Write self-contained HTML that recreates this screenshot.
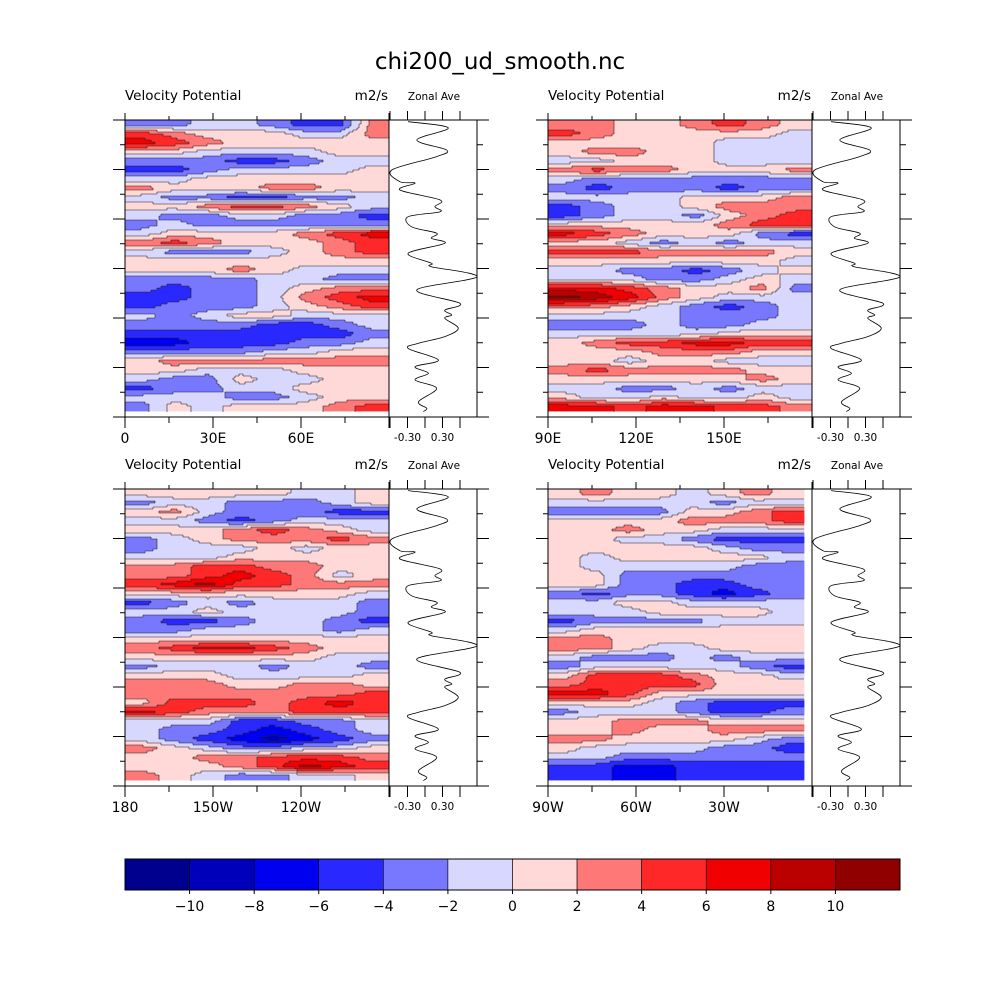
<!DOCTYPE html>
<html><head><meta charset="utf-8">
<style>
html,body{margin:0;padding:0;background:#fff;}
svg{display:block;font-family:"DejaVu Sans","Liberation Sans",sans-serif;}
</style></head>
<body>
<svg id="chart" width="1000" height="1000" viewBox="0 0 1000 1000" xmlns="http://www.w3.org/2000/svg">
<rect x="0" y="0" width="1000" height="1000" fill="#fff"/>
<text x="500" y="69" font-size="23" text-anchor="middle" fill="#000">chi200_ud_smooth.nc</text>
</svg>
<script>
// ---- data ----
const levelBounds = [-12,-10,-8,-6,-4,-2,0,2,4,6,8,10,12];
const levelColors = ["#00008f","#0000bb","#0000f0","#2828ff","#7878ff","#d8d8ff","#ffd8d8","#ff7878","#ff2828","#f00000","#bb0000","#900000"];
const cbTicks = [-10,-8,-6,-4,-2,0,2,4,6,8,10];
// level index grid per panel (rows north->south, 8 longitude columns); digits 0-9, a=10, b=11
const grid1 = ["44554337","87666557","98766666","66555566","44433455","33455556","55666666","76667766","54433445","66788765","54455443","45444444","56666789","78766678","54445678","66666666","66676555","44445544","43445677","33445789","34445678","54566555","44443345","33333334","22333445","44445566","67777777","66555666","54465566","34455666","55544566","46566678"];
const grid2 = ["77667876","87666665","66666555","67766555","55666555","78776667","54444444","43444344","55556667","34556777","34554678","66666788","98766643","66545455","88877776","66666665","55443456","55544565","99876674","ba976555","77654345","55554445","44454455","55555666","67889988","66677766","66566555","78777766","66666676","55445455","65565565","99899887"];
const grid3 = ["66666556","45544456","67544433","55434555","66678765","45677787","45556566","55566666","77887766","77898756","89a88777","66666665","34545554","55655554","43345543","44555545","66666666","78998766","66666655","45554554","66655556","77766776","77777778","68887898","98777888","55533445","54432345","54321234","76544556","66778887","66678a98","76544556"];
const grid4 = ["67665676","55555455","44446678","66667778","66766555","66554333","66666544","65666665","65555544","66444444","66443344","43443234","55665555","55566665","34444555","56666666","77666666","77655666","54445455","45555543","68887665","78888666","99866666","66654333","45554334","66777666","66766777","77666654","65555443","55444444","33223333"];
// zonal average profile
const profLat = [89.0,85.2,77.9,71.8,67.8,59.7,52.6,51.7,47.6,41.5,37.5,34.4,31.4,25.3,21.4,18.3,15.3,9.2,3.2,1.1,-5.0,-13.0,-21.1,-25.2,-28.2,-30.2,-36.2,-41.3,-45.3,-48.4,-55.5,-59.5,-63.5,-67.6,-72.6,-80.7,-84.7,-86.7];
const profVal = [-0.29,0.40,-0.14,0.37,0.20,-0.57,-0.43,-0.17,-0.43,0.26,0.17,0.26,-0.29,-0.23,0.20,0.11,0.34,-0.29,0.11,0.11,0.89,-0.14,0.60,0.34,0.46,0.34,0.57,0.34,-0.11,-0.29,0.23,-0.17,0.06,-0.17,0.20,-0.11,0.03,-0.03];
const lonLabels1 = ["0","30E","60E"];
const lonLabels2 = ["90E","120E","150E"];
const lonLabels3 = ["180","150W","120W"];
const lonLabels4 = ["90W","60W","30W"];

const NS = "http://www.w3.org/2000/svg";
const svg = document.getElementById('chart');
function mk(tag, attrs, parent){const e=document.createElementNS(NS,tag);for(const k in attrs)e.setAttribute(k,attrs[k]);(parent||svg).appendChild(e);return e;}

function drawPanel(id, ox, oy, fillW, grid, labels){
  const g = mk('g',{});
  
  
  const W=264, H=297, fillH=291;
  const rows=grid.length, cols=grid[0].length;
  const rh = fillH/32, cw = fillW/cols;
  const yScale = lat => oy + (90-lat)/180*H;
  const val = (r,c)=>{r=Math.max(0,Math.min(rows-1,r));c=Math.max(0,Math.min(cols-1,c));return parseInt(grid[r][c],16)+0.5;};
  const sample = (x,y)=>{ // x,y in cell units, centers at i+0.5
    const fx=x-0.5, fy=y-0.5; const c0=Math.floor(fx), r0=Math.floor(fy);
    const tx=fx-c0, ty=fy-r0;
    const a=val(r0,c0),b=val(r0,c0+1),c=val(r0+1,c0),d=val(r0+1,c0+1);
    return (a*(1-tx)+b*tx)*(1-ty)+(c*(1-tx)+d*tx)*ty;
  };
  const fg = mk('g',{},g);
  
  
  const step=2;
  const nx=Math.ceil(fillW/step), ny=Math.ceil(fillH/step);
  const lv=[];
  for(let j=0;j<ny;j++){
    const row=[];
    for(let i=0;i<nx;i++){
      const v=sample((i*step+step/2)/cw,(j*step+step/2)/rh);
      row.push(Math.max(0,Math.min(11,Math.floor(v))));
    }
    lv.push(row);
  }
  for(let j=0;j<ny;j++){
    let i=0;
    while(i<nx){
      let k=i; while(k+1<nx && lv[j][k+1]===lv[j][i]) k++;
      const x=ox+i*step, y=oy+j*step;
      const w=Math.min((k+1)*step, fillW)-i*step, h=Math.min(step, fillH-j*step);
      const rc=mk('rect',{x:x,y:y,width:w+0.4,height:h+0.4,fill:levelColors[lv[j][i]]},fg);
      
      
      i=k+1;
    }
  }
  // contour edges
  let dpath='';
  for(let j=0;j<ny;j++)for(let i=0;i<nx;i++){
    if(i+1<nx && lv[j][i+1]!==lv[j][i]) dpath+=`M${ox+(i+1)*step},${oy+j*step}v${step}`;
    if(j+1<ny && lv[j+1][i]!==lv[j][i]) dpath+=`M${ox+i*step},${oy+(j+1)*step}h${step}`;
  }
  const cl=mk('path',{d:dpath,stroke:'#222','stroke-width':0.6,fill:'none'},fg);
  
  
  // frame
  const fr = mk('rect',{x:ox,y:oy,width:W,height:H,fill:'none',stroke:'#000','stroke-width':1},g);
  
  
  for(let i=0;i<7;i++){
    const x = ox + i*W/6; const major = i%2===0;
    mk('line',{x1:x,x2:x,y1:oy,y2:oy-(major?7:4),stroke:'#000'},g);
    mk('line',{x1:x,x2:x,y1:oy+H,y2:oy+H+(major?11:6),stroke:'#000'},g);
  }
  labels.forEach((l,i)=>{
    const t = mk('text',{x:ox+i*W*2/6,y:oy+H+26,'font-size':14,'text-anchor':'middle'},g);
    t.textContent=l;
    
    
  });
  for(let i=0;i<=12;i++){
    const y = oy + i*H/12; const major=i%2===0;
    mk('line',{x1:ox,x2:ox-(major?12:5),y1:y,y2:y,stroke:'#000'},g);
  }
  const t1 = mk('text',{x:ox,y:oy-20,'font-size':13.5},g); t1.textContent='Velocity Potential';
   
  const t2 = mk('text',{x:ox+W-1,y:oy-20,'font-size':13.5,'text-anchor':'end'},g); t2.textContent='m2/s';
   
  const zx = ox+W, zw = 88;
  const zb = mk('rect',{x:zx,y:oy,width:zw,height:H,fill:'#fff',stroke:'#000'},g);
  
  
  const z0 = zx+36, pxPer = 17.5/0.3;
  const xs = v => z0 + v*pxPer;
  [-0.6,-0.3,0,0.3,0.6].forEach(v=>{
    const x=xs(v);
    mk('line',{x1:x,x2:x,y1:oy,y2:oy-9,stroke:'#000'},g);
    mk('line',{x1:x,x2:x,y1:oy+H,y2:oy+H+11,stroke:'#000'},g);
  });
  for(let i=0;i<=12;i++){
    const y = oy + i*H/12; const major=i%2===0;
    mk('line',{x1:zx+zw,x2:zx+zw+(major?12:6),y1:y,y2:y,stroke:'#000'},g);
  }
  [[-0.3,'-0.30'],[0.3,'0.30']].forEach(p=>{
    const t=mk('text',{x:xs(p[0]),y:oy+H+24,'font-size':10.5,'text-anchor':'middle'},g); t.textContent=p[1];
     
  });
  const zt = mk('text',{x:zx+45,y:oy-20,'font-size':10.5,'text-anchor':'middle'},g); zt.textContent='Zonal Ave';
   
  const P = profLat.map((la,i)=>[xs(profVal[i]), yScale(la)]);
  let d='M'+P[0][0].toFixed(1)+','+P[0][1].toFixed(1);
  for(let i=0;i<P.length-1;i++){
    const p0=P[Math.max(0,i-1)],p1=P[i],p2=P[i+1],p3=P[Math.min(P.length-1,i+2)];
    const c1=[p1[0]+(p2[0]-p0[0])/6,p1[1]+(p2[1]-p0[1])/6];
    const c2=[p2[0]-(p3[0]-p1[0])/6,p2[1]-(p3[1]-p1[1])/6];
    d+=` C${c1[0].toFixed(1)},${c1[1].toFixed(1)} ${c2[0].toFixed(1)},${c2[1].toFixed(1)} ${p2[0].toFixed(1)},${p2[1].toFixed(1)}`;
  }
  const pl = mk('path',{d:d,fill:'none',stroke:'#000','stroke-width':0.8},g);
  
  
}

drawPanel('panel-0-90e',125,120,264,grid1,lonLabels1);
drawPanel('panel-90e-180',548,120,264,grid2,lonLabels2);
drawPanel('panel-180-90w',125,489,264,grid3,lonLabels3);
drawPanel('panel-90w-0',548,489,256,grid4,lonLabels4);

const cb = mk('g',{});


const cbX0=125, cbX1=900, cbY=859, cbH=31;
const cbScale = v => cbX0 + (v-levelBounds[0])/(levelBounds[levelBounds.length-1]-levelBounds[0])*(cbX1-cbX0);
levelColors.forEach((c,i)=>{
  const r = mk('rect',{x:cbScale(levelBounds[i]),y:cbY,width:cbScale(levelBounds[i+1])-cbScale(levelBounds[i]),height:cbH,fill:c,stroke:'#000','stroke-width':0.6},cb);
  
  
});
mk('rect',{x:cbX0,y:cbY,width:cbX1-cbX0,height:cbH,fill:'none',stroke:'#000','stroke-width':1},cb);
cbTicks.forEach(v=>{
  const x=cbScale(v);
  mk('line',{x1:x,x2:x,y1:cbY+cbH,y2:cbY+cbH+4,stroke:'#000'},cb);
  const t=mk('text',{x:x,y:cbY+cbH+21,'font-size':14,'text-anchor':'middle'},cb);
  t.textContent = v<0 ? '\u2212'+Math.abs(v) : String(v);
  
  
});
</script>
</body></html>
